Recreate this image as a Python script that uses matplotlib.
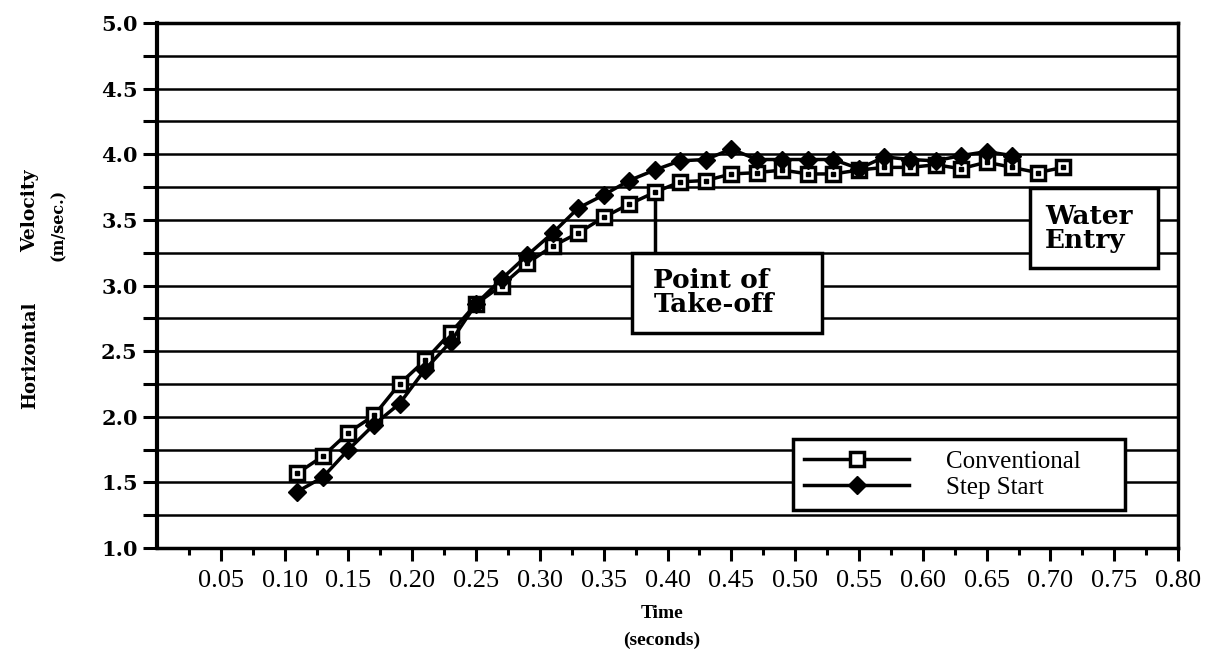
import matplotlib
matplotlib.use("Agg")
import matplotlib.pyplot as plt
from matplotlib.patches import Rectangle
import numpy as np

# ---- data ----
time_conv = [0.11, 0.13, 0.15, 0.17, 0.19, 0.21, 0.23, 0.25, 0.27, 0.29, 0.31,
             0.33, 0.35, 0.37, 0.39, 0.41, 0.43, 0.45, 0.47, 0.49, 0.51, 0.53,
             0.55, 0.57, 0.59, 0.61, 0.63, 0.65, 0.67, 0.69, 0.71]
vel_conv = [1.57, 1.70, 1.88, 2.01, 2.25, 2.43, 2.64, 2.86, 3.00, 3.17, 3.30,
            3.40, 3.52, 3.62, 3.71, 3.79, 3.80, 3.85, 3.86, 3.88, 3.85, 3.85,
            3.88, 3.90, 3.90, 3.92, 3.89, 3.94, 3.90, 3.86, 3.90]
time_step = [0.11, 0.13, 0.15, 0.17, 0.19, 0.21, 0.23, 0.25, 0.27, 0.29, 0.31,
             0.33, 0.35, 0.37, 0.39, 0.41, 0.43, 0.45, 0.47, 0.49, 0.51, 0.53,
             0.55, 0.57, 0.59, 0.61, 0.63, 0.65, 0.67]
vel_step = [1.43, 1.54, 1.75, 1.94, 2.10, 2.36, 2.57, 2.86, 3.05, 3.23, 3.40,
            3.59, 3.69, 3.80, 3.88, 3.95, 3.96, 4.04, 3.96, 3.96, 3.96, 3.96,
            3.89, 3.98, 3.96, 3.95, 3.99, 4.02, 3.99]
x_tick_labels = ["0.05", "0.10", "0.15", "0.20", "0.25", "0.30", "0.35", "0.40",
                 "0.45", "0.50", "0.55", "0.60", "0.65", "0.70", "0.75", "0.80"]
y_tick_labels = ["1.0", "1.5", "2.0", "2.5", "3.0", "3.5", "4.0", "4.5", "5.0"]
series_names = ["Conventional", "Step Start"]
takeoff_time = 0.39

SERIF = "Liberation Serif"
DSERIF = "DejaVu Serif"

fig = plt.figure(figsize=(12.07, 6.65), dpi=100)
ax = fig.add_axes([0.1301, 0.1759, 0.976 - 0.1301, 0.9654 - 0.1759])

ax.set_xlim(0, 0.80)
ax.set_ylim(1.0, 5.0)

# gridlines every 0.25
for yv in np.arange(1.25, 5.0, 0.25):
    ax.axhline(yv, color="black", lw=1.8, zorder=1)

# data lines
ax.plot(time_conv, vel_conv, color="black", lw=2.5, marker="s", ms=10,
        mfc="white", mec="black", mew=2.5, zorder=4, label=series_names[0])
ax.plot(time_conv, vel_conv, ls="none", marker="s", ms=2.5, color="black", zorder=5)
ax.plot(time_step, vel_step, color="black", lw=2.5, marker="D", ms=9,
        mfc="black", mec="black", zorder=6, label=series_names[1])

# take-off vertical line
idx = time_conv.index(takeoff_time)
ax.plot([takeoff_time, takeoff_time], [3.25, vel_conv[idx]], color="black", lw=2.5, zorder=3)

# annotation boxes
ax.add_patch(Rectangle((0.372, 2.638), 0.521 - 0.372, 3.25 - 2.638, facecolor="white",
                       edgecolor="black", lw=2.5, zorder=7))
ax.text(0.389, 2.945, "Point of\nTake-off", family=DSERIF, fontweight="bold", fontsize=19,
        va="center", ha="left", linespacing=0.95, zorder=8)
ax.add_patch(Rectangle((0.684, 3.133), 0.784 - 0.684, 3.743 - 3.133, facecolor="white",
                       edgecolor="black", lw=2.5, zorder=7))
ax.text(0.696, 3.435, "Water\nEntry", family=DSERIF, fontweight="bold", fontsize=19,
        va="center", ha="left", linespacing=0.95, zorder=8)

# ticks
ax.set_xticks(np.arange(0.05, 0.8001, 0.05))
ax.set_xticklabels(x_tick_labels, family=SERIF, fontsize=19)
ax.set_xticks(np.arange(0.025, 0.8, 0.05), minor=True)
ax.set_yticks(np.arange(1.0, 5.001, 0.5))
ax.set_yticklabels(y_tick_labels, family=DSERIF, fontsize=15, fontweight="bold")
ax.set_yticks(np.arange(1.25, 5.0, 0.5), minor=True)
ax.tick_params(axis="x", which="major", direction="out", length=9, width=2.2, pad=7)
ax.tick_params(axis="x", which="minor", direction="out", length=5, width=2.2)
ax.tick_params(axis="y", which="both", direction="out", length=10, width=2.2, pad=4)

for side in ["left", "right", "top", "bottom"]:
    ax.spines[side].set_linewidth(2.5)
ax.spines["left"].set_linewidth(3)

# axis labels
fig.text(0.5485, 0.078, "Time", family=SERIF, fontweight="bold", fontsize=14,
         ha="center", va="center")
fig.text(0.5485, 0.0376, "(seconds)", family=SERIF, fontweight="bold", fontsize=14,
         ha="center", va="center")
fig.text(0.025, 0.466, "Horizontal", family=DSERIF, fontweight="bold", fontsize=13,
         ha="center", va="center", rotation=90)
fig.text(0.025, 0.683, "Velocity", family=DSERIF, fontweight="bold", fontsize=13.5,
         ha="center", va="center", rotation=90)
fig.text(0.048, 0.662, "(m/sec.)", family=DSERIF, fontweight="bold", fontsize=11.5,
         ha="center", va="center", rotation=90)

leg = ax.legend(loc="lower left", bbox_to_anchor=(0.623, 0.0724, 0.325, 0.168),
                mode="expand", frameon=True, fancybox=False, shadow=False,
                prop={"family": SERIF, "size": 18}, handlelength=4.2,
                handletextpad=1.45, borderpad=0.45, labelspacing=0.15,
                borderaxespad=0)
leg.get_frame().set_edgecolor("black")
leg.get_frame().set_linewidth(2.5)
leg.get_frame().set_facecolor("white")
leg.get_frame().set_alpha(1)
leg.set_zorder(10)

fig.savefig("out.png", dpi=100)
